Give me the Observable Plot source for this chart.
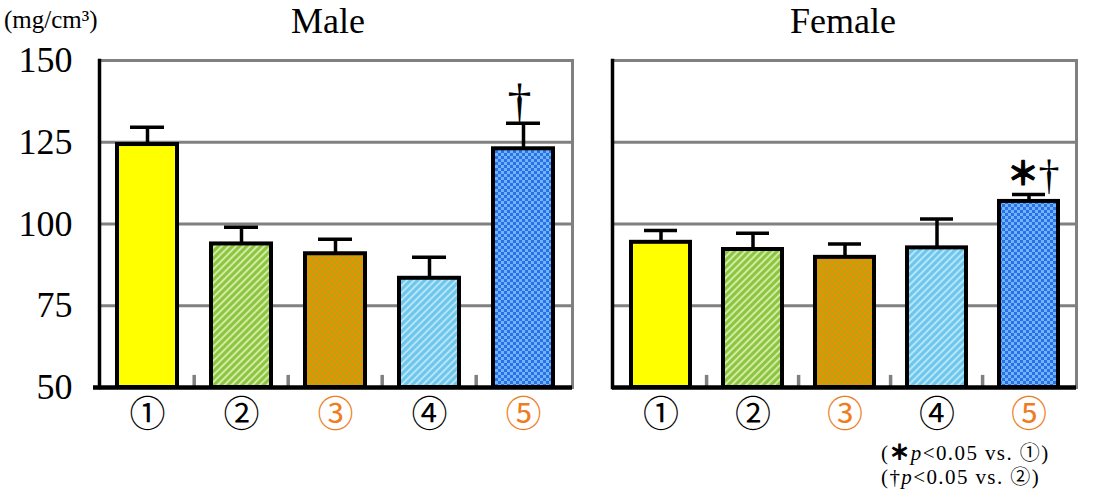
<!DOCTYPE html>
<html>
<head>
<meta charset="utf-8">
<script src="https://cdn.jsdelivr.net/npm/d3@7"></script>
<script src="https://cdn.jsdelivr.net/npm/@observablehq/plot@0.6"></script>
<style>
  body { margin: 0; background: #fff; }
  #root { position: relative; width: 1093px; height: 493px; overflow: hidden; font-family: "Liberation Serif", serif; color: #000; }
  .panel { position: absolute; top: 0; }
  .title { position: absolute; font-size: 36px; line-height: 36px; white-space: nowrap; transform: translateX(-50%); }
  .unit { position: absolute; left: 4px; top: 6px; font-size: 25px; line-height: 28px; white-space: nowrap; }
  .note { position: absolute; left: 881px; font-size: 21px; line-height: 24px; letter-spacing: 1.4px; white-space: nowrap; }
  .note .cjk { font-family: "Noto Sans CJK JP"; font-size: 20px; line-height: 1; }
  .note .star { font-family: "Noto Sans CJK JP"; font-weight: bold; font-size: 20px; line-height: 1; -webkit-text-stroke: 1px #000; }
</style>
</head>
<body>
<svg width="0" height="0" style="position:absolute">
  <defs>
    <pattern id="greenStripe" width="5" height="5" patternUnits="userSpaceOnUse" patternTransform="rotate(45)">
      <rect width="5" height="5" fill="#8cc63f"/>
      <rect width="2" height="5" fill="#d2eaa6"/>
    </pattern>
    <pattern id="blueStripe" width="5" height="5" patternUnits="userSpaceOnUse" patternTransform="rotate(45)">
      <rect width="5" height="5" fill="#6dc6ec"/>
      <rect width="2" height="5" fill="#b6e4f8"/>
    </pattern>
    <pattern id="orangeCheck" width="6" height="6" patternUnits="userSpaceOnUse">
      <rect width="6" height="6" fill="#f08d04"/>
      <rect width="3" height="3" fill="#b2a814"/>
      <rect x="3" y="3" width="3" height="3" fill="#b2a814"/>
    </pattern>
    <pattern id="blueCheck" width="6" height="6" patternUnits="userSpaceOnUse">
      <rect width="6" height="6" fill="#2f6fe6"/>
      <rect width="3" height="3" fill="#6cb6ff"/>
      <rect x="3" y="3" width="3" height="3" fill="#6cb6ff"/>
    </pattern>
  </defs>
</svg>
<div id="root">
  <div class="unit">(mg/cm³)</div>
  <div class="title" style="left:328px; top:3px;">Male</div>
  <div class="title" style="left:843px; top:3px;">Female</div>
  <div class="panel" id="male" style="left:0px;"></div>
  <div class="panel" id="female" style="left:585px;"></div>
  <div class="note" style="top:441px;">(<span class="star">＊</span><i>p</i>&lt;0.05 vs. <span class="cjk">①</span>)</div>
  <div class="note" style="top:465px;">(†<i>p</i>&lt;0.05 vs. <span class="cjk">②</span>)</div>
</div>
<script>
// ---- data ----
const groups = ["①", "②", "③", "④", "⑤"];
const labelColors = ["#000000", "#000000", "#ee7d22", "#000000", "#ee7d22"];
const groupFills = ["#ffff00", "url(#greenStripe)", "url(#orangeCheck)", "url(#blueStripe)", "url(#blueCheck)"];
const maleMean = [124.3, 93.9, 90.9, 83.4, 123.0];
const maleUpper = [129.6, 99.0, 95.3, 89.8, 130.8];
const femaleMean = [94.4, 92.2, 89.8, 92.7, 106.9];
const femaleUpper = [98.0, 97.2, 93.9, 101.5, 109.0];
const maleStar = ["", "", "", "", ""];
const maleDagger = ["", "", "", "", "†"];
const femaleStar = ["", "", "", "", "＊"];
const femaleDagger = ["", "", "", "", "†"];
const yTicks = [50, 75, 100, 125, 150];
const gridTicks = [75, 100, 125, 150];

function panel({mean, upper, star, dagger, width, marginLeft, marginRight, showY, axisExtend, daggerDx, daggerSize}) {
  const data = groups.map((g, i) => ({
    g, mean: mean[i], upper: upper[i], fill: groupFills[i], color: labelColors[i],
    star: star[i], dagger: dagger[i]
  }));
  const step = (width - marginLeft - marginRight) / groups.length;
  const marks = [
    Plot.ruleY(gridTicks, {stroke: "#808080", strokeWidth: 3}),
    Plot.frame({stroke: "#808080", strokeWidth: 3}),
    Plot.ruleX(data.slice(1), {x: "g", y1: 50, y2: 53.7, dx: -step / 2, stroke: "#808080", strokeWidth: 3.5}),
    Plot.ruleX(data, {x: "g", y1: "mean", y2: "upper", stroke: "black", strokeWidth: 3.5}),
    Plot.tickY(data, {x: "g", y: "upper", stroke: "black", strokeWidth: 3.5, insetLeft: 13, insetRight: 13}),
    Plot.barY(data, {x: "g", y1: 50, y2: "mean", fill: "fill", stroke: "black", strokeWidth: 4}),
    Plot.frame({anchor: "left", stroke: "black", strokeWidth: 3.5}),
    Plot.ruleY([50], {stroke: "black", strokeWidth: 4.5, insetLeft: -axisExtend}),
    Plot.text(data, {x: "g", y: 50, dy: 28, text: "g", fill: "color", fontSize: 36, fontFamily: "Noto Sans CJK JP"}),
    Plot.text(data, {x: "g", y: "upper", text: "star", dx: -6, dy: -10, lineAnchor: "bottom", fontSize: 32, fontWeight: "bold", fontFamily: "Noto Sans CJK JP", fill: "black", stroke: "black", strokeWidth: 1.2}),
    Plot.text(data, {x: "g", y: "upper", text: "dagger", dx: daggerDx, dy: -6, lineAnchor: "bottom", fontSize: daggerSize, fontFamily: "Liberation Serif", fill: "black"})
  ];
  if (showY) {
    marks.push(Plot.axisY({ticks: yTicks, tickSize: 0, tickPadding: 27, fontSize: 36, fontFamily: "Liberation Serif", fill: "black"}));
  }
  return Plot.plot({
    width, height: 493,
    marginTop: 60, marginBottom: 106, marginLeft, marginRight,
    x: {domain: groups, paddingInner: 0.36, paddingOuter: 0.18, axis: null},
    y: {domain: [50, 150], ...(showY ? {} : {axis: null})},
    color: {type: "identity"},
    style: {background: "transparent", overflow: "visible", fontFamily: "Liberation Serif"},
    marks
  });
}

document.getElementById("male").appendChild(panel({
  mean: maleMean, upper: maleUpper, star: maleStar, dagger: maleDagger,
  width: 585, marginLeft: 99, marginRight: 13, showY: true, axisExtend: 6, daggerDx: -4, daggerSize: 48
}));
document.getElementById("female").appendChild(panel({
  mean: femaleMean, upper: femaleUpper, star: femaleStar, dagger: femaleDagger,
  width: 508, marginLeft: 27, marginRight: 17, showY: false, axisExtend: 0, daggerDx: 20, daggerSize: 42
}));
</script>
</body>
</html>
